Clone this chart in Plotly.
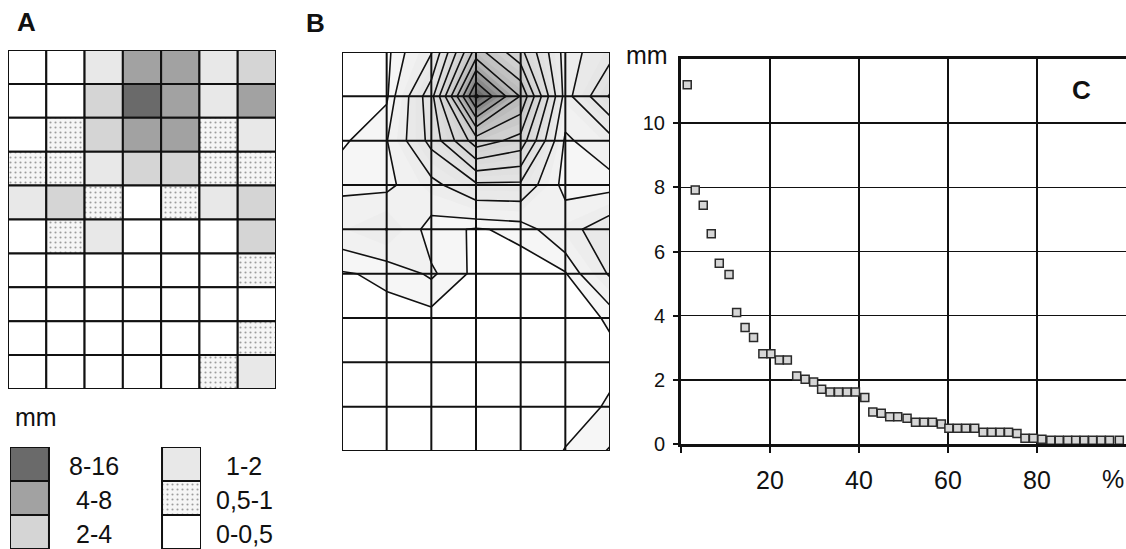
import plotly.graph_objects as go

W, H = 1126, 549
FONT = "Liberation Sans"

# ---------------- data ----------------
# Panel A: depth class of each cell, rows top -> bottom, 7 columns
# class index: 0 "0-0,5", 1 "0,5-1", 2 "1-2", 3 "2-4", 4 "4-8", 5 "8-16"
classes_A = [
    [0, 0, 2, 4, 4, 2, 3],
    [0, 0, 3, 5, 4, 2, 4],
    [0, 1, 3, 4, 4, 1, 2],
    [1, 1, 2, 3, 3, 1, 1],
    [2, 3, 1, 0, 1, 2, 3],
    [0, 1, 2, 0, 0, 0, 3],
    [0, 0, 0, 0, 0, 0, 1],
    [0, 0, 0, 0, 0, 0, 0],
    [0, 0, 0, 0, 0, 0, 1],
    [0, 0, 0, 0, 0, 1, 2],
]
class_labels = ["0-0,5", "0,5-1", "1-2", "2-4", "4-8", "8-16"]
class_colors = ["#ffffff", "#f6f6f6", "#e8e8e8", "#d5d5d5", "#a2a2a2", "#6a6a6a"]
class_patterns = ["", ".", "", "", "", ""]
legend_left = [5, 4, 3]
legend_right = [2, 1, 0]

# Panel B: depth (mm) at grid nodes (cell centres of A)
depth_B = [
    [0.30, 0.35, 1.93, 7.44, 5.28, 1.62, 2.62],
    [0.30, 0.40, 3.63, 11.2, 7.92, 1.62, 4.10],
    [0.40, 0.96, 3.32, 6.55, 5.63, 0.85, 1.62],
    [0.85, 0.80, 1.71, 2.81, 2.81, 0.68, 0.68],
    [1.45, 2.02, 0.68, 0.45, 0.62, 1.62, 2.62],
    [0.45, 0.60, 1.10, 0.35, 0.30, 0.45, 2.12],
    [0.30, 0.35, 0.30, 0.25, 0.20, 0.30, 0.55],
    [0.20, 0.20, 0.20, 0.15, 0.15, 0.20, 0.40],
    [0.15, 0.15, 0.15, 0.15, 0.15, 0.30, 0.55],
    [0.12, 0.12, 0.12, 0.12, 0.12, 0.52, 1.05],
]
# grey shade of contour bands in B (level mm -> colour)
b_levels = [0, 0.5, 1, 2, 4, 6, 8, 9, 10, 11]
b_colors = ["#ffffff", "#f6f6f6", "#f1f1f1", "#e9e9e9", "#dddddd", "#d0d0d0",
            "#b4b4b4", "#989898", "#7c7c7c", "#5c5c5c"]

# Panel C: cumulative distribution
pct_C = [1.4, 3.2, 5.0, 6.8, 8.6, 10.8, 12.5, 14.4, 16.3, 18.4, 20.2, 22.1, 23.9,
         26.0, 27.9, 29.8, 31.6, 33.5, 35.4, 37.3, 39.2, 41.3, 43.1, 45.0, 46.9,
         48.7, 50.8, 52.7, 54.6, 56.5, 58.5, 60.2, 62.1, 64.0, 66.0, 67.9, 69.8,
         71.7, 73.6, 75.5, 77.3, 79.2, 81.1, 83.1, 85.0, 86.9, 88.7, 90.6, 92.5,
         94.4, 96.3, 98.5]
depth_C = [11.2, 7.92, 7.44, 6.55, 5.63, 5.28, 4.1, 3.63, 3.32, 2.81, 2.81, 2.62,
           2.62, 2.12, 2.02, 1.93, 1.71, 1.62, 1.62, 1.62, 1.62, 1.45, 1.0, 0.96,
           0.85, 0.85, 0.8, 0.68, 0.68, 0.68, 0.62, 0.49, 0.49, 0.49, 0.49, 0.37,
           0.37, 0.37, 0.37, 0.33, 0.18, 0.18, 0.15, 0.12, 0.12, 0.12, 0.12, 0.12,
           0.12, 0.12, 0.12, 0.12]
y_ticks_C = [0, 2, 4, 6, 8, 10]
x_ticks_C = [0, 20, 40, 60, 80]
x_ticktext_C = ["", "20", "40", "60", "80"]


def px(x):
    return x / W


def py(y):
    return 1 - y / H


fig = go.Figure()

# ---------------- Panel A ----------------
nrows = len(classes_A)
ncols = len(classes_A[0])
xs, bases, cols, pats = [], [], [], []
for r, row in enumerate(classes_A):
    for c, k in enumerate(row):
        xs.append(c)
        bases.append(r)
        cols.append(class_colors[k])
        pats.append(class_patterns[k])

fig.add_trace(go.Bar(
    x=xs, y=[1] * len(xs), base=bases, width=1, xaxis="x", yaxis="y",
    marker=dict(color=cols, line=dict(color="#111111", width=2),
                pattern=dict(shape=pats, bgcolor=cols, fgcolor="#9c9c9c",
                             size=5, solidity=0.14)),
    hoverinfo="skip", showlegend=False))

# legend boxes
lx, lb, lc, lp = [], [], [], []
for i, k in enumerate(legend_left):
    lx.append(0); lb.append(i); lc.append(class_colors[k]); lp.append(class_patterns[k])
for i, k in enumerate(legend_right):
    lx.append(3.9); lb.append(i); lc.append(class_colors[k]); lp.append(class_patterns[k])
fig.add_trace(go.Bar(
    x=lx, y=[1] * len(lx), base=lb, width=1, xaxis="x2", yaxis="y2",
    marker=dict(color=lc, line=dict(color="#111111", width=2),
                pattern=dict(shape=lp, bgcolor=lc, fgcolor="#9c9c9c",
                             size=5, solidity=0.14)),
    hoverinfo="skip", showlegend=False))

# ---------------- Panel B ----------------
lev_top = 11.0
cscale = [[lv / lev_top, c] for lv, c in zip(b_levels, b_colors)]

gx = list(range(ncols))
gy = list(range(nrows))
fig.add_trace(go.Contour(
    z=depth_B, x=gx, y=gy, xaxis="x3", yaxis="y3",
    contours=dict(start=0.5, end=lev_top, size=0.5, coloring="fill", showlines=False),
    colorscale=cscale, showscale=False, line=dict(width=0, smoothing=0),
    hoverinfo="skip"))
fig.add_trace(go.Contour(
    z=depth_B, x=gx, y=gy, xaxis="x3", yaxis="y3",
    contours=dict(start=1, end=11, size=1, coloring="none"),
    line=dict(color="#111111", width=1.6, smoothing=0), showscale=False,
    hoverinfo="skip"))
fig.add_trace(go.Contour(
    z=depth_B, x=gx, y=gy, xaxis="x3", yaxis="y3",
    contours=dict(start=0.5, end=0.5, size=1, coloring="none"),
    line=dict(color="#111111", width=1.6, smoothing=0), showscale=False,
    hoverinfo="skip"))

shapes = []
for i in gx:
    shapes.append(dict(type="line", xref="x3", yref="y3", x0=i, x1=i, y0=0, y1=nrows - 1,
                       line=dict(color="#111111", width=2), layer="above"))
for j in gy:
    shapes.append(dict(type="line", xref="x3", yref="y3", x0=0, x1=ncols - 1, y0=j, y1=j,
                       line=dict(color="#111111", width=2), layer="above"))

# ---------------- Panel C ----------------
fig.add_trace(go.Scatter(
    x=pct_C, y=depth_C, mode="markers", xaxis="x4", yaxis="y4",
    marker=dict(symbol="square", size=8, color="#d6d6d6",
                line=dict(color="#2a2a2a", width=1.5)),
    hoverinfo="skip", showlegend=False, cliponaxis=False))

hidden = dict(visible=False, showgrid=False, zeroline=False, fixedrange=True,
              automargin=False)

fig.update_layout(
    width=W, height=H, margin=dict(l=0, r=0, t=0, b=0, autoexpand=False),
    paper_bgcolor="white", plot_bgcolor="white", barmode="overlay",
    font=dict(family=FONT, color="#111111"),
    showlegend=False,
    xaxis=dict(domain=[px(8), px(276)], range=[-0.5, ncols - 0.5], **hidden),
    yaxis=dict(domain=[py(389), py(50)], range=[nrows, 0], **hidden),
    xaxis2=dict(domain=[px(10), px(201)], range=[-0.5, 4.4], **hidden),
    yaxis2=dict(domain=[0, py(447)], range=[3, 0], **hidden),
    xaxis3=dict(domain=[px(342), px(610)], range=[0, ncols - 1], **hidden),
    yaxis3=dict(domain=[py(451), py(52)], range=[nrows - 1, 0], **hidden),
    xaxis4=dict(domain=[px(681), 1], range=[0, 100], anchor="y4",
                tickvals=x_ticks_C, ticktext=x_ticktext_C, ticks="outside",
                ticklen=6, tickwidth=2, tickcolor="#111111",
                showgrid=True, gridcolor="#111111", gridwidth=1.6,
                zeroline=False, showline=True, linewidth=3, linecolor="#111111",
                mirror=True, tickfont=dict(size=25, family=FONT, color="#111111"),
                ticklabelstandoff=6, automargin=False, fixedrange=True),
    yaxis4=dict(domain=[py(444), py(59)], range=[0, 12], anchor="x4",
                tickvals=y_ticks_C, ticks="outside", ticklen=5, tickwidth=2,
                tickcolor="#111111", showgrid=True, gridcolor="#111111",
                gridwidth=1.6, zeroline=False, showline=True, linewidth=3,
                linecolor="#111111", mirror=False,
                tickfont=dict(size=20, family=FONT, color="#111111"),
                ticklabelstandoff=4, automargin=False, fixedrange=True),
    shapes=shapes,
)

ann = []


def add_text(text, x, y, size, bold=False, xanchor="center"):
    ann.append(dict(text=("<b>%s</b>" % text) if bold else text,
                    x=px(x), y=py(y), xref="paper", yref="paper",
                    xanchor=xanchor, yanchor="middle", showarrow=False,
                    font=dict(size=size, family=FONT, color="#111111")))


add_text("A", 26, 22, 26, bold=True)
add_text("B", 315, 23, 26, bold=True)
add_text("C", 1081, 90, 26, bold=True)
add_text("mm", 13, 417, 25, xanchor="left")
add_text("mm", 670, 55, 25, xanchor="right")
add_text("%", 1113, 479, 25)
for i, k in enumerate(legend_left):
    add_text(class_labels[k], 94, 466 + 34 * i, 25)
for i, k in enumerate(legend_right):
    add_text(class_labels[k], 244, 466 + 34 * i, 25)

fig.update_layout(annotations=ann)

fig.write_html(
    "out.html",
    config={"displayModeBar": False, "staticPlot": True},
    post_script="document.body.style.margin='0';"
                "document.body.style.overflow='hidden';"
                "document.documentElement.style.overflow='hidden';",
)
